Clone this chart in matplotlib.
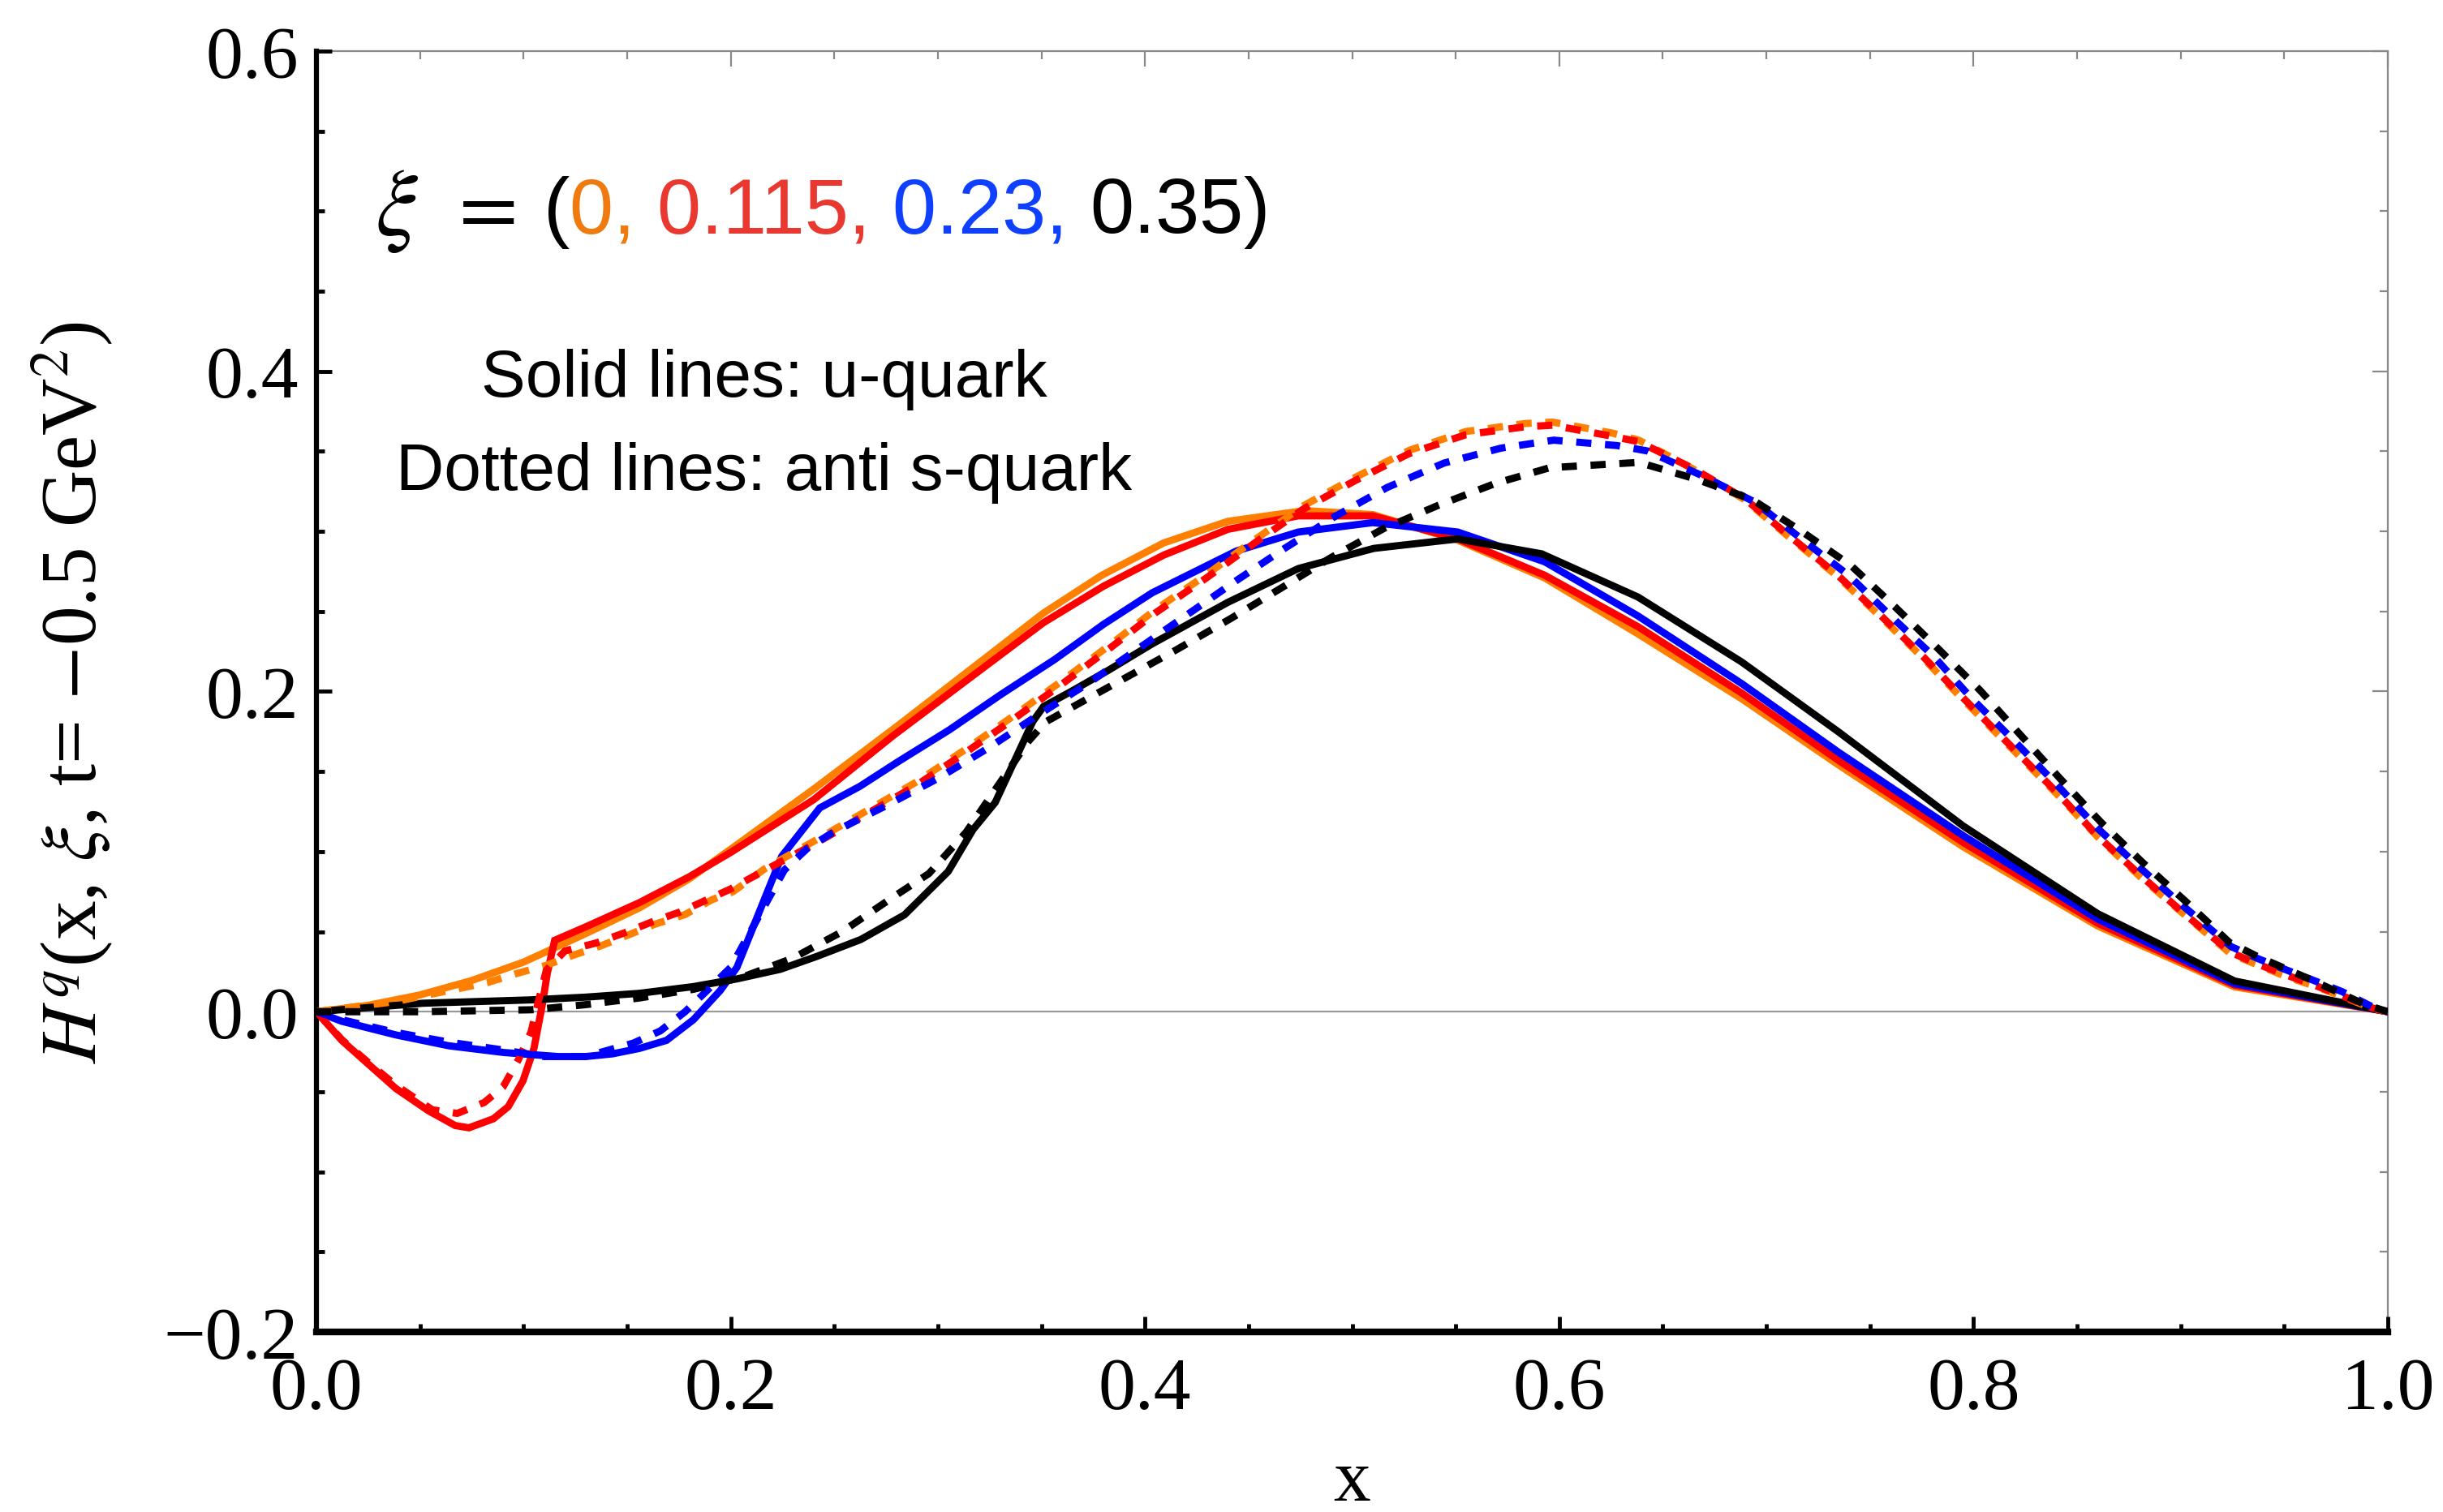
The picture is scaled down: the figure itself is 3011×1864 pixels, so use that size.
import numpy as np
import matplotlib
matplotlib.use("Agg")
import matplotlib.pyplot as plt
from matplotlib.ticker import MultipleLocator, FuncFormatter, NullFormatter

plt.rcParams["font.family"] = ["Liberation Serif", "DejaVu Serif"]
plt.rcParams["mathtext.fontset"] = "stix"

# --- data: H^q(x, xi, t=-0.5 GeV^2) ---
# solid lines: u-quark
x_u0 = [0, 0.025, 0.05, 0.075, 0.1, 0.13, 0.156, 0.18, 0.2, 0.24, 0.28, 0.317,
        0.351, 0.379, 0.409, 0.44, 0.477, 0.51, 0.551, 0.593, 0.638, 0.688,
        0.735, 0.795, 0.86, 0.926, 1.0]
h_u0 = [0, 0.004, 0.0105, 0.0195, 0.031, 0.0488, 0.0649, 0.083, 0.1015, 0.139,
        0.178, 0.215, 0.249, 0.2725, 0.2928, 0.3063, 0.313, 0.3105, 0.2945,
        0.2709, 0.236, 0.1955, 0.154, 0.103, 0.0535, 0.0155, 0]

x_u115 = [0, 0.0123, 0.0253, 0.0384, 0.054, 0.067, 0.0736, 0.0854, 0.0926,
          0.0997, 0.105, 0.109, 0.1115, 0.115, 0.13, 0.156, 0.18, 0.2, 0.24,
          0.278, 0.317, 0.351, 0.38, 0.409, 0.44, 0.474, 0.51, 0.551, 0.593,
          0.638, 0.688, 0.735, 0.795, 0.86, 0.926, 1.0]
h_u115 = [0, -0.018, -0.033, -0.048, -0.0618, -0.0711, -0.0725, -0.0669,
          -0.0593, -0.0432, -0.023, 0.004, 0.0243, 0.0446, 0.053, 0.0682,
          0.0843, 0.0995, 0.1324, 0.172, 0.21, 0.243, 0.2658, 0.2852, 0.3013,
          0.3097, 0.3097, 0.2953, 0.2726, 0.2405, 0.1991, 0.1568, 0.1057,
          0.0552, 0.0166, 0]

x_u23 = [0, 0.0123, 0.0384, 0.064, 0.0906, 0.1167, 0.13, 0.143, 0.156, 0.169,
         0.182, 0.195, 0.203, 0.2246, 0.243, 0.2624, 0.2806, 0.3055, 0.3303,
         0.3564, 0.38, 0.4034, 0.444, 0.474, 0.51, 0.551, 0.593, 0.638, 0.688,
         0.735, 0.795, 0.86, 0.926, 1.0]
h_u23 = [0, -0.006, -0.0145, -0.0213, -0.0255, -0.028, -0.028, -0.0263,
         -0.0229, -0.0179, -0.005, 0.0133, 0.0277, 0.097, 0.1273, 0.1408,
         0.156, 0.176, 0.198, 0.22, 0.242, 0.2616, 0.2877, 0.2996, 0.3055,
         0.2996, 0.281, 0.2472, 0.205, 0.1619, 0.11, 0.0578, 0.0175, 0]

x_u35 = [0, 0.0514, 0.1036, 0.13, 0.156, 0.182, 0.203, 0.224, 0.2419, 0.2628,
         0.2839, 0.305, 0.317, 0.3277, 0.338, 0.3459, 0.351, 0.3643, 0.3825,
         0.4034, 0.44, 0.474, 0.5105, 0.551, 0.5915, 0.638, 0.688, 0.735,
         0.795, 0.86, 0.926, 1.0]
h_u35 = [0, 0.0053, 0.0074, 0.0091, 0.0115, 0.0157, 0.0205, 0.0265, 0.0347,
         0.0451, 0.0605, 0.0876, 0.1138, 0.1307, 0.1594, 0.1814, 0.1906, 0.2,
         0.2134, 0.2297, 0.2557, 0.2768, 0.2894, 0.2953, 0.286, 0.259, 0.2185,
         0.1746, 0.116, 0.0612, 0.0192, 0]

# dotted lines: anti s-quark
x_s0 = [0, 0.0384, 0.067, 0.0826, 0.097, 0.111, 0.124, 0.137, 0.1505, 0.1635,
        0.1778, 0.191, 0.201, 0.2167, 0.2414, 0.2663, 0.2898, 0.3134, 0.3368,
        0.3603, 0.3838, 0.4048, 0.4295, 0.453, 0.4765, 0.5014, 0.5275, 0.5549,
        0.5836, 0.5967, 0.6253, 0.6384, 0.6646, 0.6893, 0.7103, 0.7338,
        0.7547, 0.7756, 0.7945, 0.8203, 0.8402, 0.8601, 0.8807, 0.9024,
        0.9243, 0.9376, 0.9508, 0.9647, 0.978, 0.9926, 1.0]
h_s0 = [0, 0.0064, 0.014, 0.0182, 0.024, 0.029, 0.0353, 0.041, 0.0479, 0.0547,
        0.0606, 0.07, 0.0749, 0.0895, 0.1074, 0.126, 0.1436, 0.1639, 0.185,
        0.207, 0.2298, 0.2509, 0.2728, 0.2948, 0.316, 0.3337, 0.3506, 0.3624,
        0.3674, 0.3683, 0.3615, 0.357, 0.339, 0.32, 0.2972, 0.2725, 0.2472,
        0.221, 0.1955, 0.162, 0.136, 0.109, 0.084, 0.06, 0.036, 0.029, 0.022,
        0.016, 0.0095, 0.002, 0]

x_s115 = [0, 0.0123, 0.0253, 0.0384, 0.056, 0.068, 0.081, 0.0901, 0.0975,
          0.1036, 0.107, 0.111, 0.12, 0.135, 0.1494, 0.1624, 0.1755, 0.1885,
          0.2, 0.2167, 0.2414, 0.2663, 0.2898, 0.3134, 0.3368, 0.3603, 0.3838,
          0.4048, 0.4295, 0.453, 0.4765, 0.5014, 0.5275, 0.5549, 0.5836,
          0.5967, 0.6253, 0.6384, 0.6646, 0.6893, 0.7103, 0.7338, 0.7547,
          0.7756, 0.7945, 0.8203, 0.8402, 0.8601, 0.8807, 0.9024, 0.9243,
          0.9376, 0.9508, 0.9647, 0.978, 0.9926, 1.0]
h_s115 = [0, -0.0175, -0.032, -0.046, -0.0613, -0.0635, -0.0567, -0.047,
          -0.03, -0.0127, 0.0056, 0.026, 0.038, 0.0429, 0.0496, 0.0563,
          0.0623, 0.0699, 0.0767, 0.0885, 0.1054, 0.124, 0.1416, 0.1619,
          0.183, 0.205, 0.2278, 0.2489, 0.2708, 0.2928, 0.314, 0.3317, 0.3486,
          0.3604, 0.3654, 0.3663, 0.3595, 0.356, 0.3393, 0.3207, 0.298,
          0.2734, 0.2481, 0.2219, 0.1966, 0.163, 0.137, 0.1095, 0.085, 0.0605,
          0.037, 0.0295, 0.023, 0.0165, 0.01, 0.0023, 0]

x_s23 = [0, 0.0123, 0.0384, 0.064, 0.0906, 0.11, 0.13, 0.153, 0.166, 0.178,
         0.188, 0.2, 0.2259, 0.237, 0.2493, 0.2755, 0.3003, 0.3251, 0.3486,
         0.3734, 0.397, 0.4204, 0.4439, 0.4674, 0.4922, 0.517, 0.5444, 0.5718,
         0.5973, 0.628, 0.6424, 0.6685, 0.6946, 0.7168, 0.7397, 0.7599, 0.7808,
         0.7991, 0.8203, 0.8402, 0.8601, 0.8807, 0.9024, 0.9243, 0.9376,
         0.9508, 0.9647, 0.978, 0.9926, 1.0]
h_s23 = [0, -0.005, -0.013, -0.019, -0.024, -0.028, -0.028, -0.0196, -0.012,
         0.0, 0.0125, 0.0277, 0.0885, 0.102, 0.112, 0.129, 0.1459, 0.1653,
         0.1855, 0.2058, 0.227, 0.248, 0.2691, 0.2894, 0.3097, 0.3275, 0.3427,
         0.352, 0.357, 0.3536, 0.3503, 0.3351, 0.3182, 0.2954, 0.2726, 0.2473,
         0.2219, 0.1957, 0.1683, 0.1418, 0.1143, 0.0895, 0.0647, 0.0407,
         0.033, 0.0262, 0.0193, 0.0125, 0.003, 0]

x_s35 = [0, 0.05, 0.1036, 0.13, 0.156, 0.182, 0.206, 0.2299, 0.2538, 0.2777,
         0.2957, 0.3137, 0.3288, 0.3438, 0.352, 0.3643, 0.3891, 0.4152, 0.4413,
         0.4661, 0.4896, 0.5157, 0.5418, 0.5692, 0.5954, 0.6384, 0.6665,
         0.6933, 0.7175, 0.741, 0.7619, 0.7821, 0.8031, 0.8223, 0.8415,
         0.8613, 0.8812, 0.9024, 0.9236, 0.9369, 0.9627, 0.9886, 1.0]
h_s35 = [0, 0.0, 0.0012, 0.0044, 0.0086, 0.014, 0.0218, 0.0334, 0.05, 0.071,
         0.0863, 0.1122, 0.1408, 0.169, 0.181, 0.1898, 0.2075, 0.2261, 0.2455,
         0.2649, 0.2835, 0.3021, 0.3164, 0.33, 0.3398, 0.3431, 0.3325, 0.3198,
         0.2996, 0.2785, 0.2531, 0.2278, 0.2008, 0.1734, 0.146, 0.1186, 0.0937,
         0.0689, 0.0432, 0.0346, 0.0201, 0.0047, 0]

xi_labels = ["0", "0.115", "0.23", "0.35"]
line_colors = ["#FF8000", "#FF0000", "#0000FF", "#000000"]
text_colors = ["#EE7A10", "#E8382F", "#1040FF", "#000000"]

solid = [(x_u0, h_u0), (x_u115, h_u115), (x_u23, h_u23), (x_u35, h_u35)]
dotted = [(x_s0, h_s0), (x_s115, h_s115), (x_s23, h_s23), (x_s35, h_s35)]

fig = plt.figure(figsize=(30.11, 18.65), dpi=100)
ax = fig.add_axes([390 / 3011, 1 - 1643 / 1865, (2943 - 390) / 3011, (1643 - 64) / 1865])

ax.axhline(0, color="#999999", lw=1.6, zorder=1)

for (xs, ys), c in zip(solid, line_colors):
    ax.plot(xs, ys, color=c, lw=6.4, solid_joinstyle="miter", zorder=2)
for (xs, ys), c in zip(dotted, line_colors):
    ax.plot(xs, ys, color=c, lw=6.4, dashes=(2.1, 1.9), dash_capstyle="butt", zorder=3)

ax.set_xlim(0, 1)
ax.set_ylim(-0.2, 0.6)

fmt = FuncFormatter(lambda v, pos: ("%.1f" % v).replace("-", "\u2212"))
ax.xaxis.set_major_locator(MultipleLocator(0.2))
ax.xaxis.set_minor_locator(MultipleLocator(0.05))
ax.yaxis.set_major_locator(MultipleLocator(0.2))
ax.yaxis.set_minor_locator(MultipleLocator(0.05))
ax.xaxis.set_major_formatter(fmt)
ax.yaxis.set_major_formatter(fmt)

ax.tick_params(which="both", direction="in", top=False, right=False, labelsize=66, width=3.5)
ax.tick_params(which="major", length=14)
ax.tick_params(which="minor", length=7)
ax.tick_params(axis="y", pad=16)
ax.tick_params(axis="x", pad=22)

ax.spines["left"].set_linewidth(4.5)
ax.spines["bottom"].set_linewidth(6)
ax.spines["top"].set_visible(False)
ax.spines["right"].set_visible(False)

# gray frame on the other two sides, ticks only
top = ax.secondary_xaxis("top")
right = ax.secondary_yaxis("right")
for sec, loc in ((top, "top"), (right, "right")):
    sec.spines[loc].set_color("#888888")
    sec.spines[loc].set_linewidth(1.6)
top.xaxis.set_major_locator(MultipleLocator(0.2))
top.xaxis.set_minor_locator(MultipleLocator(0.05))
top.xaxis.set_major_formatter(NullFormatter())
right.yaxis.set_major_locator(MultipleLocator(0.2))
right.yaxis.set_minor_locator(MultipleLocator(0.05))
right.yaxis.set_major_formatter(NullFormatter())
top.tick_params(labeltop=False)
right.tick_params(labelright=False)
for sec in (top, right):
    sec.tick_params(which="both", direction="in", colors="#888888", width=1.6)
    sec.tick_params(which="major", length=14)
    sec.tick_params(which="minor", length=7)

ax.set_xlabel("x", fontsize=66, va="baseline")
ax.xaxis.set_label_coords(0.5, -(1850 - 1643) / 1579)
ax.set_ylabel(r"$H^q$(x, $\xi$, t= $-$0.5 GeV$^2$)", fontsize=70)
ax.yaxis.set_label_coords(-0.097, 0.5)

# annotation: xi = (0, 0.115, 0.23, 0.35) in matching colours
fig.canvas.draw()
renderer = fig.canvas.get_renderer()
ytxt = 1 - 262 / 1865
fig.text(462 / 3011, ytxt, r"$\xi$", fontsize=84, va="center", ha="left")
fig.text(550 / 3011, ytxt, r"$=$", fontsize=76, va="center", ha="left")

pieces = [("(", "black")]
for i, (lab, tc) in enumerate(zip(xi_labels, text_colors)):
    s = lab + (", " if i < len(xi_labels) - 1 else "")
    pieces.append((s, tc))
pieces.append((")", "black"))

xpos = 670 / 3011
for s, c in pieces:
    t = fig.text(xpos, ytxt, s, color=c, family=["Liberation Sans"], fontsize=70,
                 va="center", ha="left")
    bb = t.get_window_extent(renderer)
    xpos += bb.width / fig.bbox.width

fig.text(942 / 3011, 1 - 468 / 1865, "Solid lines: u-quark", family=["Liberation Sans"],
         fontsize=59, ha="center", va="center")
fig.text(942 / 3011, 1 - 583 / 1865, "Dotted lines: anti s-quark", family=["Liberation Sans"],
         fontsize=59, ha="center", va="center")

fig.savefig("out.png", dpi=100)
